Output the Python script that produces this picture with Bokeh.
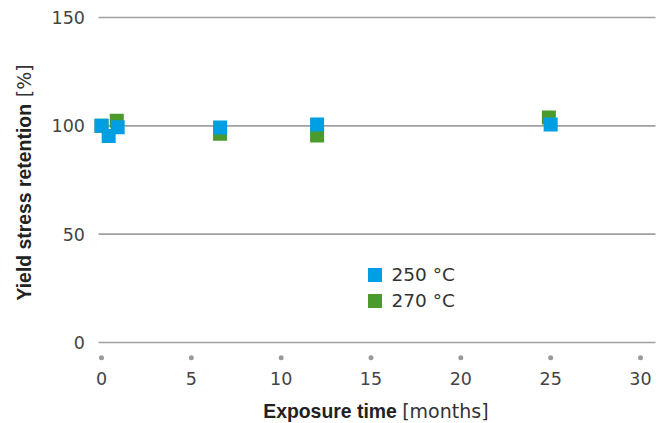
import math
from bokeh.plotting import figure
from bokeh.models import Range1d, Label, Legend, LegendItem, ColumnDataSource
from bokeh.core.properties import value
from bokeh.embed import file_html
from bokeh.resources import INLINE

# data
months_250 = [0, 0.4, 0.9, 6.6, 12, 25]
retention_250 = [100, 95.3, 99.3, 99.2, 100.6, 100.6]
months_270 = [0, 0.85, 6.6, 12, 24.9]
retention_270 = [100, 102.3, 96.4, 95.5, 103.8]
series_labels = ["250 °C", "270 °C"]
x_ticks = [0, 5, 10, 15, 20, 25, 30]
y_ticks = [0, 50, 100, 150]
x_tick_labels = [str(t) for t in x_ticks]
y_tick_labels = [str(t) for t in y_ticks]

BLUE = "#009ee2"
GREEN = "#4a9a2c"
REG = "DejaVu Sans"
BOLD = "Liberation Sans"

# pixel geometry: x=0 at px 101, 17.967 px/month; y=0 at px 342, 2.1667 px/unit
W, H = 665, 423
XPX, X0 = 539 / 30, 101
YPX, Y0 = 325 / 150, 342
x_start = -X0 / XPX
x_end = x_start + W / XPX
y_start = -(H - Y0) / YPX
y_end = Y0 / YPX

def dx(px):
    return (px - X0) / XPX

def dy(py):
    return (Y0 - py) / YPX

p = figure(width=W, height=H, output_backend="svg", toolbar_location=None,
           x_range=Range1d(x_start, x_end), y_range=Range1d(y_start, y_end),
           x_axis_location=None, y_axis_location=None, min_border=0)
p.outline_line_color = None
p.background_fill_color = "white"
p.border_fill_color = "white"
p.grid.visible = False

# horizontal grid lines across the plotting area
grid_left, grid_right = dx(98), dx(655)
gsrc = ColumnDataSource(dict(y=y_ticks, x0=[grid_left] * len(y_ticks), x1=[grid_right] * len(y_ticks)))
p.segment(x0="x0", y0="y", x1="x1", y1="y", source=gsrc, line_color="#a0a0a0", line_width=1.6)

# x tick dots
dsrc = ColumnDataSource(dict(x=x_ticks, y=[dy(357.3)] * len(x_ticks)))
p.scatter("x", "y", source=dsrc, marker="circle", size=5, fill_color="#9a9a9a", line_color=None)

# tick labels
xl = ColumnDataSource(dict(x=x_ticks, y=[dy(378)] * len(x_ticks), t=x_tick_labels))
p.text("x", "y", text="t", source=xl, text_font=value(REG), text_font_size="17.5px",
       text_color="#444444", text_align="center", text_baseline="middle")
yl = ColumnDataSource(dict(x=[dx(84.5)] * len(y_ticks), y=y_ticks, t=y_tick_labels))
p.text("x", "y", text="t", source=yl, text_font=value(REG), text_font_size="17.5px",
       text_color="#444444", text_align="right", text_baseline="middle")

# data
src270 = ColumnDataSource(dict(x=months_270, y=retention_270))
src250 = ColumnDataSource(dict(x=months_250, y=retention_250))
r270 = p.scatter("x", "y", source=src270, marker="square", size=14,
                 fill_color=GREEN, line_color=None)
r250 = p.scatter("x", "y", source=src250, marker="square", size=14,
                 fill_color=BLUE, line_color=None)

legend_style = dict(orientation="vertical", glyph_width=35, glyph_height=35,
                    padding=0, margin=0, label_standoff=0,
                    label_text_font=REG, label_text_font_size="18.5px",
                    label_text_color="#333333",
                    background_fill_alpha=0, border_line_color=None)
leg1 = Legend(items=[LegendItem(label=series_labels[0], renderers=[r250])],
              location=(356.5, H - 291.5), **legend_style)
leg2 = Legend(items=[LegendItem(label=series_labels[1], renderers=[r270])],
              location=(356.5, H - 317.5), **legend_style)
p.add_layout(leg1, "center")
p.add_layout(leg2, "center")

# axis titles (mixed weight)
p.add_layout(Label(x=dx(262.7), y=dy(410), text="Exposure time", text_font=BOLD,
                   text_font_style="bold", text_font_size="19.4px", text_color="#222222",
                   text_align="left", text_baseline="middle"))
p.add_layout(Label(x=dx(401.7), y=dy(410), text="[months]", text_font=REG,
                   text_font_size="19px", text_color="#333333",
                   text_align="left", text_baseline="middle"))
p.add_layout(Label(x=dx(23), y=dy(300), text="Yield stress retention", text_font=BOLD,
                   text_font_style="bold", text_font_size="19.4px", text_color="#222222",
                   text_align="left", text_baseline="middle", angle=math.pi / 2))
p.add_layout(Label(x=dx(23), y=dy(96.7), text="[%]", text_font=REG,
                   text_font_size="19px", text_color="#333333",
                   text_align="left", text_baseline="middle", angle=math.pi / 2))

open("out.html", "w").write(file_html(p, INLINE))
